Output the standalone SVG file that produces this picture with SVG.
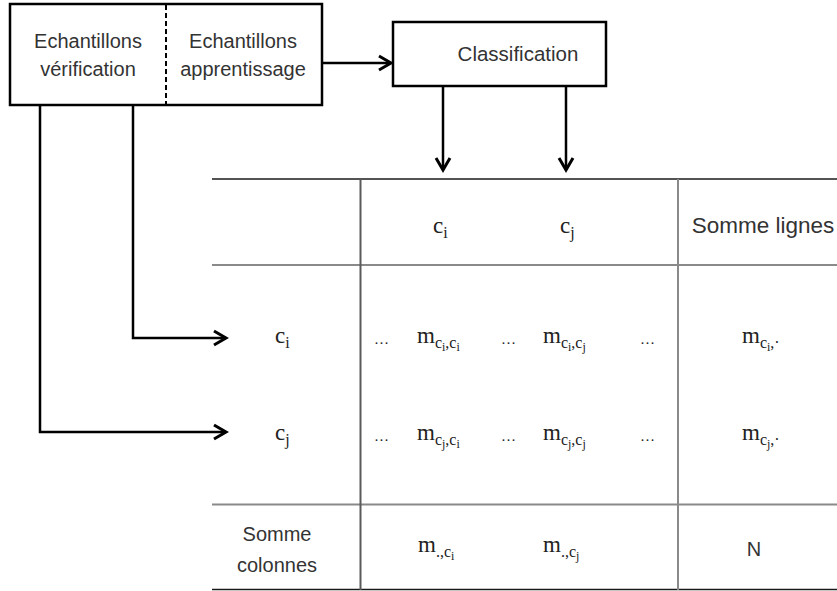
<svg xmlns="http://www.w3.org/2000/svg" width="837" height="591" viewBox="0 0 837 591">
<style>
.box{fill:#fff;stroke:#000;stroke-width:2.5}
.conn{fill:none;stroke:#000;stroke-width:2.5}
.t{font-family:"Liberation Sans",Arial,sans-serif;fill:#333;text-anchor:middle}
.m{font-family:"Liberation Serif","Times New Roman",serif;fill:#222;font-size:23px}
.s{font-size:16px}
.ss{font-size:12px}
.e{font-family:"Liberation Serif","Times New Roman",serif;fill:#222;font-size:15px}
.dark{stroke:#1a1a1a;stroke-width:1.5}
.gray{stroke:#8a8a8a;stroke-width:2}
.vgray{stroke:#5a5a5a;stroke-width:2}
</style>
<defs>
<marker id="arr" markerUnits="userSpaceOnUse" markerWidth="18" markerHeight="18" viewBox="-14 -9 18 18" refX="0" refY="0" orient="auto">
<path d="M-12,-7 L0,0 L-12,7" fill="none" stroke="#000" stroke-width="3" stroke-linejoin="miter"/>
</marker>
</defs>
<g id="samples">
<rect class="box" x="10" y="4" width="312" height="101"/>
<line x1="166" y1="5" x2="166" y2="104" stroke="#000" stroke-width="2" stroke-dasharray="5,3"/>
<text class="t" x="88" y="48" font-size="20">Echantillons</text>
<text class="t" x="88" y="76" font-size="20">vérification</text>
<text class="t" x="243" y="48" font-size="20">Echantillons</text>
<text class="t" x="243" y="76" font-size="20">apprentissage</text>
</g>
<g id="classification">
<rect class="box" x="393" y="22" width="213" height="64"/>
<text class="t" x="518" y="61" font-size="20.5">Classification</text>
</g>
<g id="connectors">
<line class="conn" x1="322" y1="63" x2="391" y2="63" marker-end="url(#arr)"/>
<line class="conn" x1="443" y1="86" x2="443" y2="170" marker-end="url(#arr)"/>
<line class="conn" x1="566" y1="86" x2="566" y2="170" marker-end="url(#arr)"/>
<polyline class="conn" points="133,105 133,338 226,338" marker-end="url(#arr)"/>
<polyline class="conn" points="40,105 40,432 226,432" marker-end="url(#arr)"/>
</g>
<g id="table">
<line class="dark" x1="212" y1="179" x2="837" y2="179"/>
<line class="gray" x1="212" y1="265" x2="837" y2="265"/>
<line class="gray" x1="212" y1="504.5" x2="837" y2="504.5"/>
<line class="dark" x1="212" y1="589.5" x2="837" y2="589.5"/>
<line class="vgray" x1="360.5" y1="179" x2="360.5" y2="590"/>
<line class="gray" x1="678" y1="179" x2="678" y2="590"/>
</g>
<g id="header">
<text class="m" x="433" y="233">c<tspan class="s" dy="5">i</tspan></text>
<text class="m" x="560" y="233">c<tspan class="s" dy="5">j</tspan></text>
<text class="t" x="763" y="233" font-size="22.5">Somme lignes</text>
</g>
<g id="row-ci">
<text class="m" x="275" y="343">c<tspan class="s" dy="5">i</tspan></text>
<text class="e" x="374" y="344">…</text>
<text class="m" x="417" y="343">m<tspan class="s" dy="5">c</tspan><tspan class="ss" dy="3">i</tspan><tspan class="s" dy="-3">,c</tspan><tspan class="ss" dy="3">i</tspan></text>
<text class="e" x="501" y="344">…</text>
<text class="m" x="543" y="343">m<tspan class="s" dy="5">c</tspan><tspan class="ss" dy="3">i</tspan><tspan class="s" dy="-3">,c</tspan><tspan class="ss" dy="3">j</tspan></text>
<text class="e" x="640" y="344">…</text>
<text class="m" x="742" y="343">m<tspan class="s" dy="5">c</tspan><tspan class="ss" dy="3">i</tspan><tspan class="s" dy="-3">,·</tspan></text>
</g>
<g id="row-cj">
<text class="m" x="275" y="440">c<tspan class="s" dy="5">j</tspan></text>
<text class="e" x="374" y="441">…</text>
<text class="m" x="417" y="440">m<tspan class="s" dy="5">c</tspan><tspan class="ss" dy="3">j</tspan><tspan class="s" dy="-3">,c</tspan><tspan class="ss" dy="3">i</tspan></text>
<text class="e" x="501" y="441">…</text>
<text class="m" x="543" y="440">m<tspan class="s" dy="5">c</tspan><tspan class="ss" dy="3">j</tspan><tspan class="s" dy="-3">,c</tspan><tspan class="ss" dy="3">j</tspan></text>
<text class="e" x="640" y="441">…</text>
<text class="m" x="742" y="440">m<tspan class="s" dy="5">c</tspan><tspan class="ss" dy="3">j</tspan><tspan class="s" dy="-3">,·</tspan></text>
</g>
<g id="row-sum">
<text class="t" x="277" y="541" font-size="20">Somme</text>
<text class="t" x="277" y="572" font-size="20">colonnes</text>
<text class="m" x="418" y="552">m<tspan class="s" dy="5">.,c</tspan><tspan class="ss" dy="3">i</tspan></text>
<text class="m" x="543" y="552">m<tspan class="s" dy="5">.,c</tspan><tspan class="ss" dy="3">j</tspan></text>
<text class="t" x="754" y="556" font-size="20">N</text>
</g>
</svg>
